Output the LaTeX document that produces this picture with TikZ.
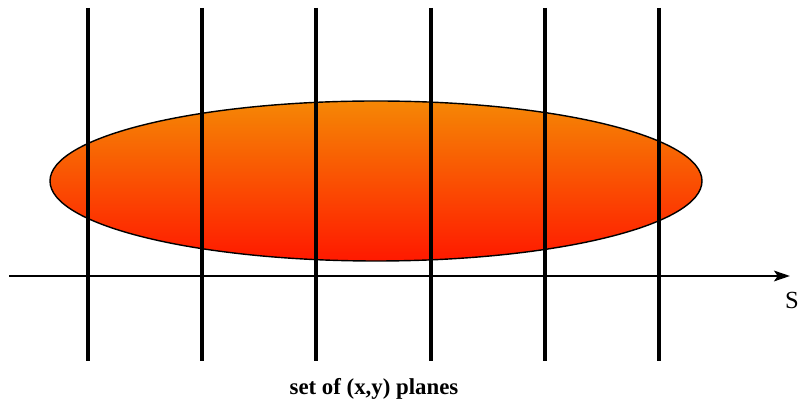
\documentclass[tikz,border=0pt]{standalone}
\usepackage{fontspec}
\setmainfont{Liberation Serif}
\usetikzlibrary{arrows.meta}

\definecolor{blobtop}{RGB}{245,135,5}
\definecolor{blobbottom}{RGB}{255,25,0}

\tikzset{
  plane/.style={line width=2.4pt},
}

\begin{document}
\begin{tikzpicture}[x=0.02cm, y=-0.02cm]
        % Frame (page size)
        \useasboundingbox (0, 0) rectangle (802, 401);

        % Blob
        \shade[top color=blobtop, bottom color=blobbottom, draw=black, line width=0.8pt]
            (376, 181) ellipse [x radius=326, y radius=80];

        % S axis
        \coordinate (axisstart) at (9, 276);
        \coordinate (axisend) at (790, 276);
        \draw[line width=1.6pt, -{Stealth[length=9pt, width=6pt, inset=2pt]}] (axisstart) -- (axisend);
        \node[font=\fontsize{14}{16}\selectfont] (slabel) at (792, 300) {S};

        % Planes
        \draw[plane] (88, 8) -- (88, 361);
        \draw[plane] (202, 8) -- (202, 361);
        \draw[plane] (316, 8) -- (316, 361);
        \draw[plane] (431, 8) -- (431, 361);
        \draw[plane] (545, 8) -- (545, 361);
        \draw[plane] (659, 8) -- (659, 361);

        % Caption
        \node[font=\fontsize{13}{15}\selectfont\bfseries] (caption) at (374, 389) {set of (x,y) planes};
\end{tikzpicture}
\end{document}
